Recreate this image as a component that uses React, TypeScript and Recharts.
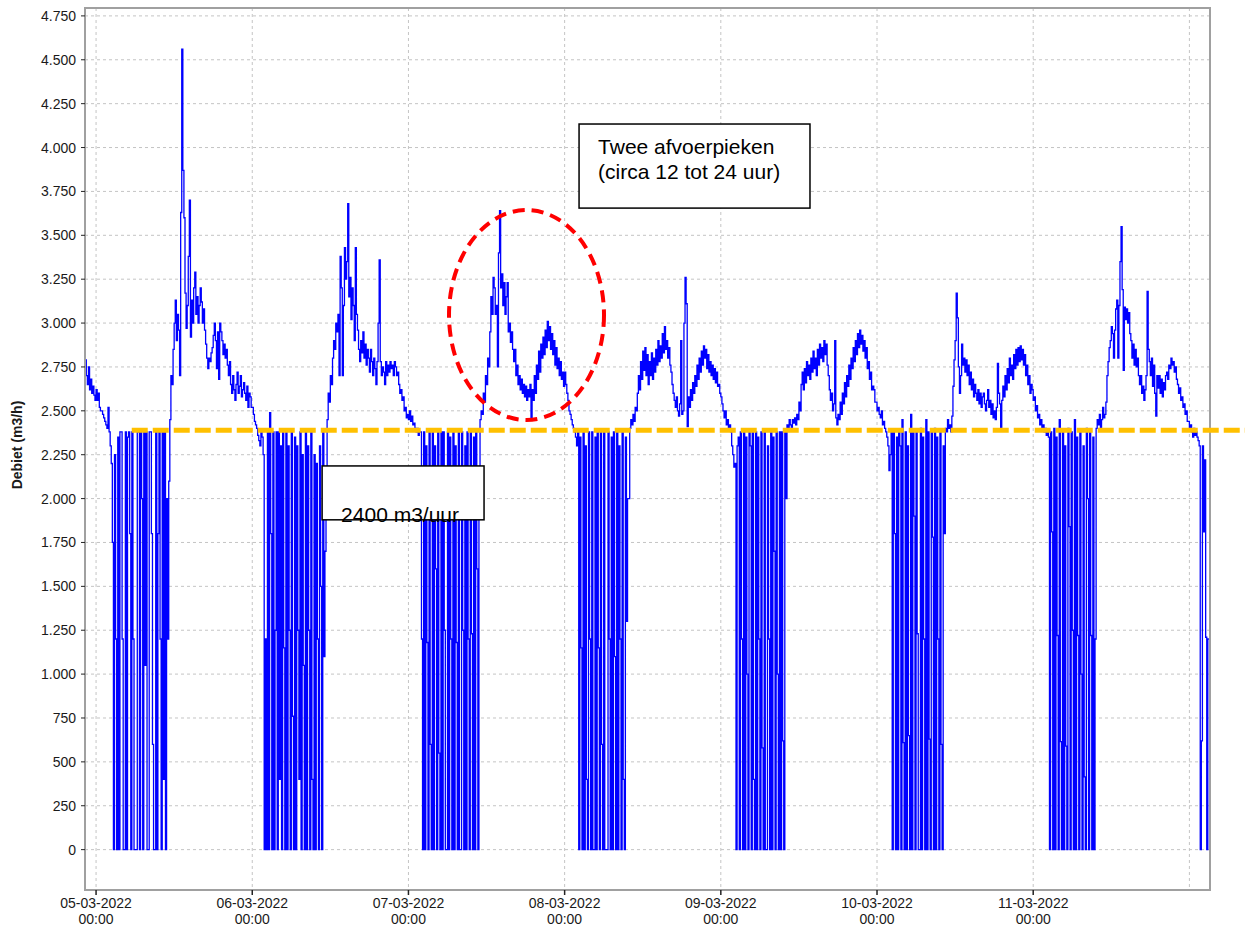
import React from 'react';
import { LineChart, Line, XAxis, YAxis, CartesianGrid, ReferenceLine, ReferenceArea } from 'recharts';

// debiet in m3/h, één waarde per 10 minuten, vanaf 04-03-2022 22:20
const STEP_MS = 10 * 60 * 1000;
const FIRST_SAMPLE = Date.UTC(2022, 2, 4, 22, 20);

const pre0403 = [2790, 2700, 2650, 2750, 2620, 2680, 2600, 2640, 2590, 2560];

const day0503 = [
  2620, 2560, 2600, 2520, 2500, 2500, 2480, 2460, 2440, 2420, 2400, 2520, 2380, 2300, 2200,
  1750, 0, 2250, 1200, 0, 2350, 0, 2380, 2380, 1200, 0, 0, 2380, 0, 2350, 2380, 1800, 0, 2380, 1200,
  0, 0, 0, 2380, 2380, 0, 2380, 2000, 0, 2380, 1050, 2380, 0, 0, 2380, 2380, 1800, 600, 0, 0,
  2380, 0, 1800, 2380, 1200, 0, 2380, 400, 2380, 0, 2000, 1200,
  2100, 2450, 2700, 2650, 2850, 3000, 3130, 2900, 3050, 2960, 2700,
  3630, 4560, 3870, 3600, 3170, 2970, 3100, 3380, 3700, 2920, 3130, 3000, 3200, 3290, 3050, 3150,
  3000, 3100, 3200, 3120, 3000, 3080, 2960, 2880, 2800, 2740, 2800, 2780, 2830, 2860, 2930, 3000,
  2900, 2740, 2950, 2680, 3000, 2950, 2900, 2820,
  2880, 2800, 2850, 2760, 2700, 2780, 2650, 2600, 2700, 2620, 2560, 2650, 2720, 2600, 2640, 2700,
  2580, 2620, 2660, 2600, 2560, 2640, 2520, 2600, 2580, 2520,
];

const day0603 = [
  2520, 2480, 2440, 2420, 2400, 2360, 2330, 2300, 2380, 2350,
  2250, 0, 1200, 0, 2380, 0, 2490, 1800, 0, 2380, 0, 1250, 2380, 0, 2380, 400, 2300, 0, 2380, 1150,
  0, 2380, 0, 2300, 1250, 0, 2380, 760, 0, 2350, 0, 2300, 1250, 400, 2380, 0, 2250, 1050, 0, 2380,
  0, 2300, 1250, 0, 2380, 400, 0, 2250, 0, 2200, 1200, 0, 2300, 1500, 0, 2380, 1100, 1700,
  2100, 2450, 2600, 2550, 2700, 2650, 2800, 2900, 2850, 3000, 2950, 3050, 2700, 3380, 3200, 2700,
  3100, 3430, 3250, 3350, 3680, 3150, 3260, 3020, 3200, 3100, 2900, 3430, 3050, 2960, 2850, 2780,
  2900, 2830, 2950, 2800, 2880, 2760, 2850, 2800, 2720, 2850, 2780, 2700, 2800, 2740, 2650, 2780,
  3000, 3360, 2780, 2700, 2750, 2720, 2650, 2780, 2700, 2760, 2720, 2780, 2740, 2760, 2700, 2780,
  2750, 2700, 2720, 2650, 2600, 2620, 2560, 2580, 2500, 2520, 2460, 2480,
];

const day0703 = [
  2450, 2500, 2440, 2470, 2420, 2430, 2400, 2380, 2400, 2360, 2380,
  2380, 1200, 0, 2380, 0, 2300, 1180, 0, 2380, 600, 0, 2380, 0, 2300, 1600, 0, 2380, 550, 0, 2380,
  0, 2380, 1250, 0, 0, 2380, 0, 2350, 1200, 0, 2380, 0, 2300, 1180, 0, 2380, 0, 0, 2380, 1250,
  0, 2300, 0, 2380, 1200, 0, 2380, 1230, 0, 2350, 0, 2380, 1600, 0,
  2100, 2450, 2500, 2480, 2600, 2550, 2700, 2650, 2800, 2750, 2950, 3150, 3050, 3260, 3200, 3050,
  3100, 2750, 3400, 3640, 3200, 3280, 3100, 3230, 3050, 3150, 3230, 2950, 3000, 2890, 2950, 2850,
  2780, 2850, 2700, 2760, 2650, 2700, 2620, 2680, 2600, 2650, 2580, 2640, 2560, 2620, 2580, 2650,
  2460, 2620, 2560, 2700, 2600, 2760, 2680, 2840, 2720, 2880, 2800, 2920, 2820, 2960, 2860, 3010,
  2900, 2980, 2850, 2940, 2820, 2900, 2760, 2860, 2740, 2800, 2700, 2780, 2680, 2720, 2640,
];

const day0803 = [
  2720, 2650, 2600, 2560, 2500, 2480, 2450, 2420, 2400, 2380, 2350, 2300,
  2380, 0, 2350, 1150, 0, 2380, 0, 2300, 400, 0, 2380, 1200, 0, 2380, 0, 0, 2350, 0, 2380, 1150,
  0, 2380, 600, 0, 2380, 0, 0, 0, 2380, 1200, 0, 2350, 0, 2380, 1100, 0, 2380, 0, 2300, 1200,
  0, 2380, 400, 0, 2350, 1300, 2000,
  2000, 2400, 2450, 2420, 2480, 2440, 2520, 2500,
  2600, 2700, 2620, 2780, 2680, 2840, 2730, 2860, 2700, 2820, 2650, 2780, 2700, 2830, 2680, 2800,
  2720, 2850, 2760, 2900, 2780, 2870, 2800, 2940, 2830, 2980, 2850, 2900, 2800, 2860, 2760, 2720,
  2650, 2600, 2560, 2520, 2580, 2500, 2470, 2540, 2900, 2480, 2500, 3000, 3260, 3110, 2410,
  2580, 2520, 2620, 2560, 2660, 2600, 2700, 2640, 2760, 2680, 2800, 2720, 2840, 2760, 2870, 2800,
  2850, 2740, 2820, 2720, 2780, 2700, 2760, 2680, 2740, 2660, 2720, 2640, 2650,
];

const day0903 = [
  2600, 2580, 2540, 2500, 2460, 2500, 2420, 2450, 2400, 2420, 2380, 2300, 2250, 2180, 2200,
  0, 2300, 2350, 0, 2380, 1200, 0, 2380, 0, 2350, 1000, 0, 2380, 2300, 0, 2380, 400, 0, 2380, 0,
  2350, 1200, 0, 2380, 580, 0, 2380, 0, 0, 2300, 1200, 0, 2380, 0, 2350, 1700, 0, 2380, 1000, 0,
  2380, 0, 2380, 620, 0, 2380, 2000,
  2420, 2400, 2450, 2420, 2400, 2450, 2430, 2460, 2420, 2480, 2450,
  2550, 2500, 2650, 2720, 2620, 2740, 2660, 2780, 2700, 2760, 2680, 2800, 2720, 2840, 2740, 2800,
  2700, 2850, 2760, 2880, 2800, 2860, 2780, 2900, 2820, 2880, 2760,
  2700, 2620, 2560, 2600, 2500, 2540, 2900, 2460, 2420, 2480, 2450,
  2550, 2480, 2600, 2540, 2660, 2580, 2700, 2640, 2760, 2680, 2800, 2740, 2860, 2780, 2900, 2820,
  2940, 2860, 2960, 2880, 2930, 2840, 2900, 2800, 2860, 2740, 2780, 2680, 2720, 2620, 2640,
  2620, 2550,
];

const day1003 = [
  2550, 2500, 2520, 2480, 2460, 2500, 2420, 2440, 2400, 2380, 2350, 2300, 2160, 2250, 2380,
  0, 2380, 1800, 0, 2350, 0, 2380, 2300, 0, 2450, 610, 0, 2380, 0, 2300, 650, 0, 2480, 0, 2380,
  1900, 0, 2380, 1230, 0, 0, 2400, 0, 2350, 1200, 0, 2450, 0, 2380, 630, 0, 2380, 1780, 0, 2400,
  0, 2350, 1200, 0, 2380, 600, 0, 2300, 1800,
  2400, 2380, 2450, 2400, 2420, 2380, 2470, 2640, 2790, 2900, 3170, 3030, 2750, 2600, 2700, 2880,
  2760, 2800, 2720, 2790, 2700, 2760, 2650, 2720, 2620, 2680, 2580, 2650, 2600, 2560, 2620, 2540,
  2600, 2520, 2580, 2600, 2540, 2500, 2560, 2620, 2520, 2560, 2480, 2540, 2460, 2500, 2450, 2520,
  2770, 2600, 2540, 2390,
  2560, 2640, 2580, 2700, 2620, 2740, 2660, 2800, 2700, 2760, 2680, 2820, 2740, 2850, 2760, 2860,
  2780, 2870, 2790, 2850, 2760, 2820, 2700, 2760, 2650, 2700, 2600, 2650,
];

const day1103 = [
  2620, 2560, 2580, 2500, 2530, 2460, 2480, 2420, 2450, 2400, 2420, 2380, 2400, 2360, 2380, 2350,
  0, 2380, 1810, 0, 2400, 0, 2350, 1220, 0, 2450, 615, 0, 2380, 0, 2300, 590, 0, 2400, 1840, 0,
  2380, 1250, 0, 2450, 0, 2350, 1220, 0, 2380, 1000, 0, 2300, 415, 0, 2400, 2000, 0, 2380, 1220,
  0, 2350, 0, 1200,
  2400, 2450, 2420, 2480, 2400, 2450, 2520, 2460, 2480, 2550, 2700, 2780, 2860, 2900, 2980, 2940,
  2800, 2960, 3080, 3130, 2800, 3100, 3350, 3550, 3190, 2730, 3090, 3020, 3080, 3000, 3060, 2940,
  2900, 2800, 2880, 2760, 2850, 2750, 2800, 2700, 2650, 2700, 2600, 2640, 2560, 2620, 2700, 3180,
  2850, 2780, 2700, 2800, 2640, 2760, 2600, 2470, 2700, 2630, 2700, 2600, 2680, 2580, 2660, 2620,
  2700, 2720, 2680, 2760, 2740, 2800, 2760, 2780, 2720, 2750, 2680, 2650, 2600, 2630, 2560, 2580,
  2520, 2540, 2480, 2500, 2440,
];

const day1203 = [2440, 2400, 2420, 2380, 2350, 2400, 2360, 2380, 2350, 2330, 2300, 0, 620, 2300, 1810, 2220, 1210, 0, 1200, 1200];

const series = [pre0403, day0503, day0603, day0703, day0803, day0903, day1003, day1103, day1203];

const data = series.flat().map((debiet, i) => ({ t: FIRST_SAMPLE + i * STEP_MS, debiet }));

const tickDays = [5, 6, 7, 8, 9, 10, 11, 12];
const labeledDays = [5, 6, 7, 8, 9, 10, 11];
const xTicks = tickDays.map((d) => Date.UTC(2022, 2, d));
const yTicks = [0, 250, 500, 750, 1000, 1250, 1500, 1750, 2000, 2250, 2500, 2750, 3000, 3250, 3500, 3750, 4000, 4250, 4500, 4750];

const X_DOMAIN = [Date.UTC(2022, 2, 4, 22, 18), Date.UTC(2022, 2, 12, 3, 10)];
const Y_DOMAIN = [-230, 4795];

const DREMPEL = 2390;

const FONT = '"Liberation Sans", Arial, sans-serif';

const pad = (n: number) => String(n).padStart(2, '0');
const fmtDebiet = (v: number) =>
  v >= 1000 ? `${Math.floor(v / 1000)}.${String(v % 1000).padStart(3, '0')}` : String(v);

function DayTick(props: any) {
  const { x, y, payload } = props;
  const d = new Date(payload.value);
  if (!labeledDays.includes(d.getUTCDate())) return <g />;
  const datum = `${pad(d.getUTCDate())}-${pad(d.getUTCMonth() + 1)}-${d.getUTCFullYear()}`;
  const tijd = `${pad(d.getUTCHours())}:${pad(d.getUTCMinutes())}`;
  return (
    <g>
      <line x1={x} x2={x} y1={y} y2={y + 5} stroke="#222" strokeWidth={1.5} />
      <text x={x} y={y + 18} textAnchor="middle" fontSize={14} fontFamily={FONT} fill="#1a1a1a">{datum}</text>
      <text x={x} y={y + 34} textAnchor="middle" fontSize={14} fontFamily={FONT} fill="#1a1a1a">{tijd}</text>
    </g>
  );
}

function YLabel(props: any) {
  const vb = props.viewBox || {};
  const cx = vb.x + 22;
  const cy = vb.y + vb.height / 2 - 4;
  return (
    <text x={cx} y={cy} transform={`rotate(-90 ${cx} ${cy})`} textAnchor="middle" fontSize={14}
      fontWeight="bold" fontFamily={FONT} fill="#1a1a1a">
      Debiet (m3/h)
    </text>
  );
}

// annotations are drawn as reference-line segments (corner to corner) so they sit above the series
const boxOf = (p: any) => ({
  x: Math.min(p.x1, p.x2),
  y: Math.min(p.y1, p.y2),
  w: Math.abs(p.x2 - p.x1),
  h: Math.abs(p.y2 - p.y1),
});

const noteBox = (lines: string[], firstBaseline: number) => (p: any) => {
  const b = boxOf(p);
  return (
    <g>
      <rect x={b.x} y={b.y} width={b.w} height={b.h} fill="#fff" stroke="#000" strokeWidth={1.5} />
      {lines.map((s, i) => (
        <text key={i} x={b.x + 19} y={b.y + firstBaseline + i * 25} fontSize={21} fontFamily={FONT} fill="#000">
          {s}
        </text>
      ))}
    </g>
  );
};

const ellipseShape = (p: any) => {
  const b = boxOf(p);
  return (
    <ellipse cx={b.x + b.w / 2} cy={b.y + b.h / 2} rx={b.w / 2} ry={b.h / 2}
      fill="none" stroke="#ff0000" strokeWidth={4} strokeDasharray="12 7" />
  );
};

export default function App() {
  return (
    <div style={{ position: 'absolute', left: 0, top: 0, background: '#fff' }}>
      <LineChart width={1245} height={933} data={data} margin={{ top: 8, right: 35, bottom: 0, left: 0 }}>
        <CartesianGrid stroke="#c4c4c4" strokeDasharray="3 3" />
        <XAxis dataKey="t" type="number" scale="time" domain={X_DOMAIN} ticks={xTicks} interval={0}
          height={43} tickSize={0} tickMargin={0} tickLine={false} tick={<DayTick />}
          axisLine={{ stroke: '#a0a0a0', strokeWidth: 2 }} allowDataOverflow />
        <YAxis type="number" domain={Y_DOMAIN} ticks={yTicks} interval={0} width={85} tickSize={4} tickMargin={5}
          tickFormatter={fmtDebiet} tick={{ fill: '#1a1a1a', fontSize: 14, fontFamily: FONT }}
          tickLine={{ stroke: '#222' }} axisLine={{ stroke: '#a0a0a0', strokeWidth: 2 }}
          label={(p: any) => <YLabel {...p} />} allowDataOverflow />
        <Line type="stepAfter" dataKey="debiet" stroke="#0000ff" strokeWidth={1.3} dot={false}
          isAnimationActive={false} />
        <ReferenceArea x1={X_DOMAIN[0]} x2={X_DOMAIN[1]} y1={Y_DOMAIN[0]} y2={Y_DOMAIN[1]}
          fill="none" stroke="#a0a0a0" strokeWidth={2} />
        <ReferenceLine segment={[{ x: Date.UTC(2022, 2, 5, 5, 29), y: DREMPEL }, { x: Date.UTC(2022, 2, 12, 12, 0), y: DREMPEL }]}
          stroke="#ffc000" strokeWidth={5} strokeDasharray="16 5" ifOverflow="visible" />
        <ReferenceLine segment={[{ x: Date.UTC(2022, 2, 7, 6, 14), y: 3644 }, { x: Date.UTC(2022, 2, 8, 6, 3), y: 2448 }]}
          ifOverflow="visible" shape={ellipseShape} />
        <ReferenceLine segment={[{ x: Date.UTC(2022, 2, 8, 2, 13), y: 4134 }, { x: Date.UTC(2022, 2, 9, 13, 42), y: 3655 }]}
          ifOverflow="visible" shape={noteBox(['Twee afvoerpieken', '(circa 12 tot 24 uur)'], 30)} />
        <ReferenceLine segment={[{ x: Date.UTC(2022, 2, 6, 10, 44), y: 2186 }, { x: Date.UTC(2022, 2, 7, 11, 37), y: 1879 }]}
          ifOverflow="visible" shape={noteBox(['2400 m3/uur'], 56)} />
      </LineChart>
    </div>
  );
}
